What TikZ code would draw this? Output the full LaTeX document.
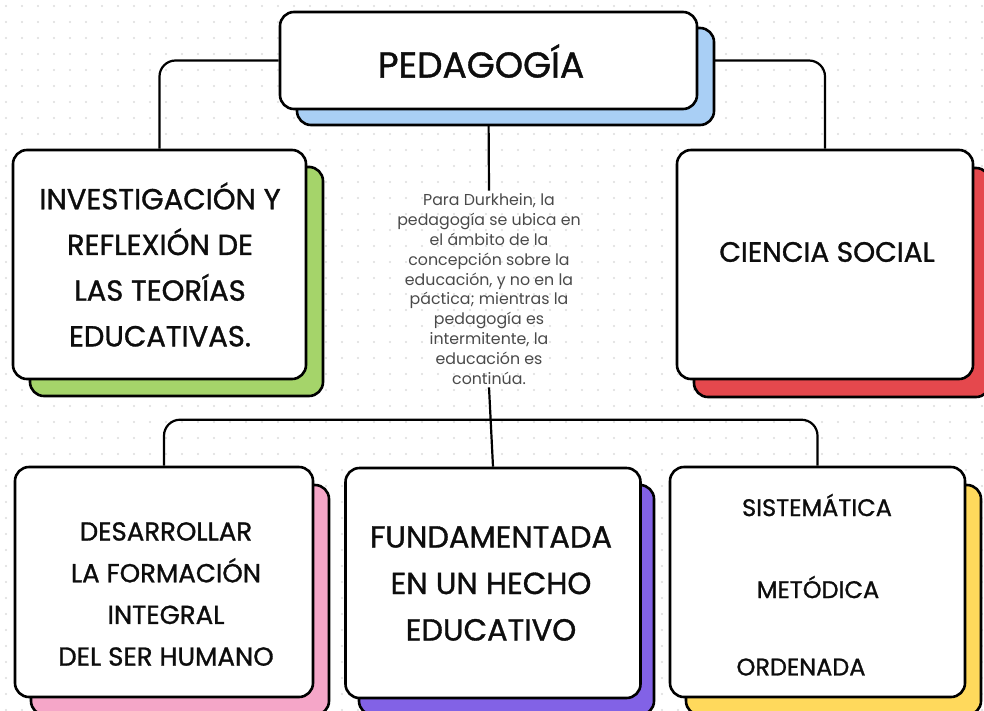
\documentclass[tikz,border=0pt]{standalone}
\usepackage{fontspec}
\setmainfont{Poppins}
\newfontfamily\capsfont[FakeBold=1.1]{Poppins}
\usetikzlibrary{backgrounds}
\definecolor{pedblue}{HTML}{A9CFF5}
\definecolor{invgreen}{HTML}{A5D46A}
\definecolor{ciered}{HTML}{E5484D}
\definecolor{despink}{HTML}{F5A6C8}
\definecolor{funpurple}{HTML}{8262E6}
\definecolor{sisyellow}{HTML}{FFD95C}
\definecolor{dotgray}{HTML}{DCDCDC}
\definecolor{txtgray}{HTML}{4A4A4A}
\begin{document}
\begin{tikzpicture}[x=1pt,y=-1pt,
  card/.style={draw=black, line width=2.6pt, rounded corners=14pt, fill=white, inner sep=0pt},
  shadowcard/.style={draw=black, line width=2.6pt, rounded corners=14pt, inner sep=0pt},
  capstext/.style={align=center, inner sep=0pt, text=black!95},
  link/.style={draw=black, line width=2.2pt, rounded corners=16pt},
  wide/.style={minimum width=#1},
  tall/.style={minimum height=#1}]
\useasboundingbox (0,0) rectangle (984,710);

% shadows
\node[shadowcard, fill=pedblue, wide=417pt, tall=97pt] (peds) at (505.5,76.5) {};
\node[shadowcard, fill=invgreen, wide=293pt, tall=229pt] (invs) at (176.5,281.5) {};
\node[shadowcard, fill=ciered, wide=296pt, tall=229pt] (cies) at (842,282.5) {};
\node[shadowcard, fill=despink, wide=298pt, tall=230pt] (dess) at (180,600) {};
\node[shadowcard, fill=funpurple, wide=295pt, tall=230pt] (funs) at (506.5,600) {};
\node[shadowcard, fill=sisyellow, wide=295pt, tall=230pt] (siss) at (833.5,600) {};

% cards
\node[card, wide=417pt, tall=97pt] (ped) at (488.5,60.5) {};
\node[card, wide=293pt, tall=229pt] (inv) at (159.5,264.5) {};
\node[card, wide=296pt, tall=229pt] (cie) at (825,264.5) {};
\node[card, wide=298pt, tall=230pt] (des) at (164,582) {};
\node[card, wide=295pt, tall=230pt] (fun) at (493,583) {};
\node[card, wide=295pt, tall=230pt] (sis) at (817.5,582) {};

% texts
\node[capstext, font=\capsfont\fontsize{36}{40}\selectfont] (pedt) at (481,61) {PEDAGOGÍA};
\node[capstext, font=\capsfont\fontsize{29}{45.7}\selectfont] (invt) at (160,264.5) {INVESTIGACIÓN Y\\REFLEXIÓN DE\\LAS TEORÍAS\\EDUCATIVAS.};
\node[capstext, font=\capsfont\fontsize{28}{32}\selectfont] (ciet) at (827,252) {CIENCIA SOCIAL};
\node[capstext, font=\capsfont\fontsize{26}{41.7}\selectfont] (dest) at (166,594) {DESARROLLAR\\LA FORMACIÓN\\INTEGRAL\\DEL SER HUMANO};
\node[capstext, font=\capsfont\fontsize{30.5}{46.5}\selectfont] (funt) at (491,583.5) {FUNDAMENTADA\\EN UN HECHO\\EDUCATIVO};
\node[capstext, font=\capsfont\fontsize{24}{28}\selectfont] (sis1) at (817,505) {SISTEMÁTICA};
\node[capstext, font=\capsfont\fontsize{24}{28}\selectfont] (sis2) at (818,587) {METÓDICA};
\node[capstext, font=\capsfont\fontsize{24}{28}\selectfont] (sis3) at (801,667) {ORDENADA};

\node[align=center, inner sep=3pt, text=txtgray, font=\fontsize{15.8}{19.8}\selectfont] (txt) at (489,289)
  {Para Durkhein, la\\pedagogía se ubica en\\el ámbito de la\\concepción sobre la\\educación, y no en la\\páctica; mientras la\\pedagogía es\\intermitente, la\\educación es\\continúa.};

\begin{scope}[on background layer]
\fill[white] (0,0) rectangle (984,710);
\foreach \i in {0,...,61}{\foreach \j in {0,...,44}{\fill[dotgray] (\i*16+6,\j*16+6) circle (1.1pt);}}
\draw[link] (ped.west) -| (inv.north);
\draw[link] (ped.east) -| (cie.north);
\draw[link] (ped.south) -- (txt.north);
\draw[link] (txt.south) -- (fun.north);
\draw[link] (des.north) -- ++(0,-46) -| (sis.north);
\end{scope}
\end{tikzpicture}
\end{document}
